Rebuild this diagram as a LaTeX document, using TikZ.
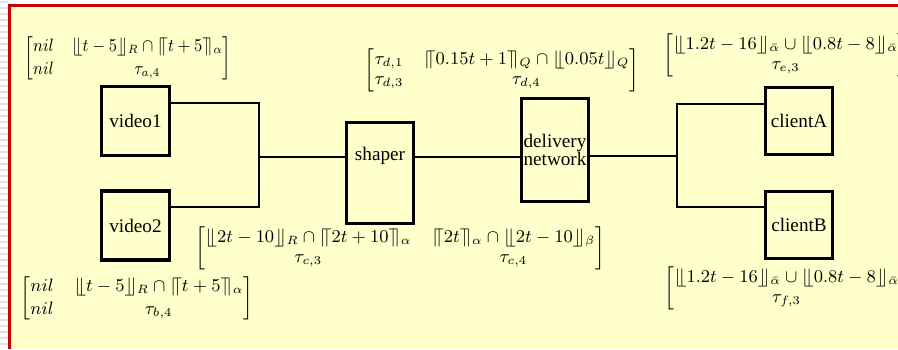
\documentclass[tikz,border=0pt]{standalone}
\usepackage{amsmath}
\usepackage[no-math]{fontspec}
\setmainfont{Liberation Serif}
\definecolor{bgyellow}{RGB}{255,255,204}
\definecolor{framered}{RGB}{204,0,0}
\newcommand{\dlfloor}{\lfloor\mkern-4mu\lfloor}
\newcommand{\drfloor}{\rfloor\mkern-4mu\rfloor}
\newcommand{\dlceil}{\lceil\mkern-4mu\lceil}
\newcommand{\drceil}{\rceil\mkern-4mu\rceil}
\begin{document}
\begin{tikzpicture}[x=0.5pt,y=-0.5pt,
  box/.style={draw,line width=1.6pt,inner sep=0pt,font=\fontsize{9.6}{9}\selectfont,align=center},
  boxlabel/.style={font=\fontsize{9.6}{9}\selectfont,inner sep=0pt},
  wire/.style={line width=1.3pt},
  mathlbl/.style={font=\fontsize{8.75}{10}\selectfont,inner sep=0pt}]
\useasboundingbox (0,0) rectangle (898,349);
\fill[white] (0,0) rectangle (898,349);
\fill[bgyellow] (9.5,5.5) rectangle (898,349);
\foreach \y in {2,8,...,349} \draw[gray!25,line width=1pt] (0,\y) -- (8,\y);
\draw[framered,line width=1.5pt] (9.5,349) -- (9.5,5.5) -- (898,5.5);

% boxes
\node[box,minimum width=34pt,minimum height=34.5pt] (video1) at (135.5,121) {video1};
\node[box,minimum width=34pt,minimum height=34.5pt] (video2) at (135.5,225.5) {video2};
\node[box,minimum width=33.5pt,minimum height=50.5pt] (shaper) at (380,173) {};
\node[boxlabel] (shapertext) at (380,156) {shaper};
\node[box,minimum width=33.5pt,minimum height=51.5pt] (delivery) at (555,150) {delivery\\network};
\node[box,minimum width=33.5pt,minimum height=33.5pt] (clientA) at (799,121) {clientA};
\node[box,minimum width=33.5pt,minimum height=33.5pt] (clientB) at (799,225) {clientB};

% connectors
\coordinate (jl) at (259,157);
\coordinate (jlt) at (259,103);
\coordinate (jlb) at (259,207);
\coordinate (jr) at (677,156);
\coordinate (jrt) at (677,104);
\coordinate (jrb) at (677,207);
\draw[wire] (video1.east |- jlt) -- (jlt) -- (jlb) -- (video2.east |- jlb);
\draw[wire] (jl) -- (shaper.west |- jl);
\draw[wire] (shaper.east |- jl) -- (delivery.west |- jl);
\draw[wire] (delivery.east |- jr) -- (jr);
\draw[wire] (clientA.west |- jrt) -- (jrt) -- (jrb) -- (clientB.west |- jrb);

% labels
\node[mathlbl] (ma) at (128,58.5) {\scalebox{0.89}[1]{$\begin{bmatrix} nil & \dlfloor t-5\drfloor_R \cap \dlceil t+5\drceil_\alpha \\[1.5pt] nil & \tau_{a,4}\end{bmatrix}$}};
\node[mathlbl] (mb) at (137,298.5) {$\begin{bmatrix} nil & \dlfloor t-5\drfloor_R \cap \dlceil t+5\drceil_\alpha \\[1.5pt] nil & \tau_{b,4}\end{bmatrix}$};
\node[mathlbl] (mc) at (400,248) {$\begin{bmatrix} \dlfloor 2t-10\drfloor_R \cap \dlceil 2t+10\drceil_\alpha & \dlceil 2t\drceil_\alpha \cap \dlfloor 2t-10\drfloor_\beta \\ \tau_{c,3} & \tau_{c,4}\end{bmatrix}$};
\node[mathlbl] (md) at (502,70) {$\begin{bmatrix} \tau_{d,1} & \dlceil 0.15t+1\drceil_Q \cap \dlfloor 0.05t\drfloor_Q \\ \tau_{d,3} & \tau_{d,4}\end{bmatrix}$};
\node[mathlbl,anchor=west] (me) at (663,55) {$\begin{bmatrix} \dlfloor 1.2t-16\drfloor_{\bar\alpha} \cup \dlfloor 0.8t-8\drfloor_{\bar\alpha} \\ \tau_{e,3}\end{bmatrix}$};
\node[mathlbl,anchor=west] (mf) at (664,288.5) {$\begin{bmatrix} \dlfloor 1.2t-16\drfloor_{\bar\alpha} \cup \dlfloor 0.8t-8\drfloor_{\bar\alpha} \\ \tau_{f,3}\end{bmatrix}$};
\end{tikzpicture}
\end{document}
